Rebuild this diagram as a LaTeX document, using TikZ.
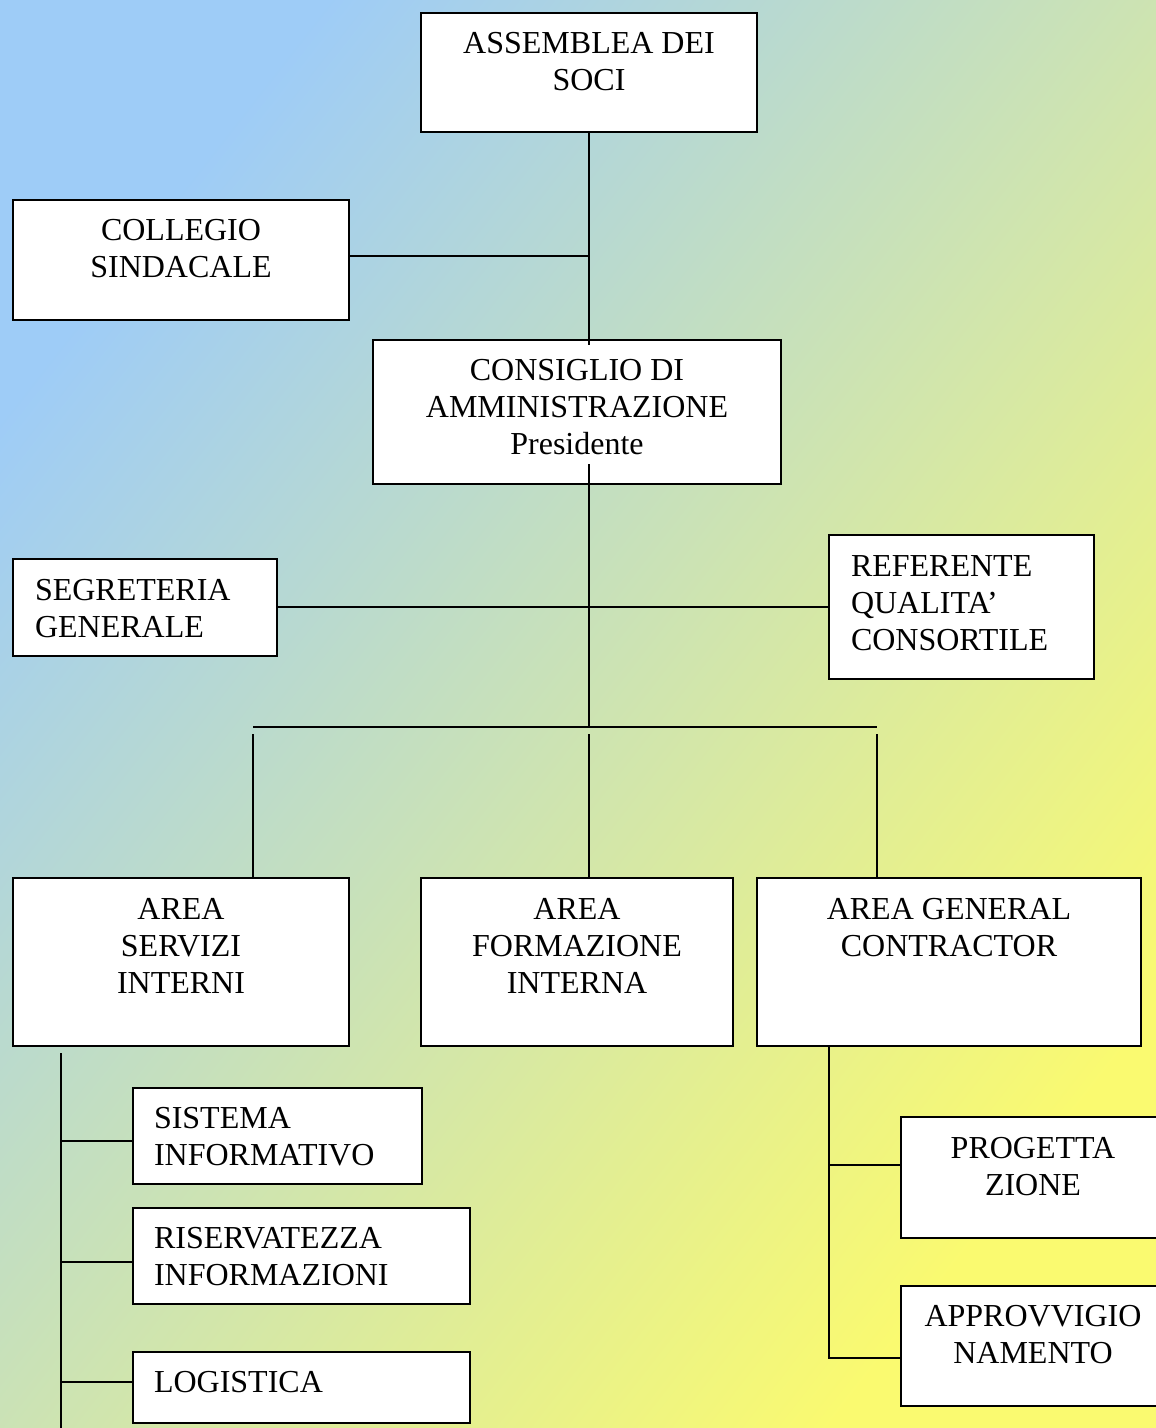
\documentclass[tikz,border=0pt]{standalone}
\usepackage{fontspec}
\setmainfont{Liberation Serif}
\usetikzlibrary{calc}
\definecolor{bgA}{RGB}{158,204,247}
\definecolor{bgB}{RGB}{250,250,112}
\begin{document}
\begin{tikzpicture}[x=1pt,y=-1pt,
  box/.style={draw, line width=2.4pt, fill=white, rectangle, inner sep=0pt, outer sep=0pt, anchor=north west},
  txt/.style={inner sep=0pt, outer sep=0pt, font=\fontsize{32}{37}\selectfont},
  ctxt/.style={txt, align=center, anchor=north},
  ltxt/.style={txt, align=left, anchor=north west},
  conn/.style={line width=2pt}]
\useasboundingbox (0,0) rectangle (1156,1428);
\clip (0,0) rectangle (1156,1428);
\shade[top color=bgA, bottom color=bgB, shading angle=52] (0,0) rectangle (1156,1428);

% boxes
\node[box, minimum width=336pt, minimum height=119pt] (asm) at (421,13) {};
\node[box, minimum width=336pt, minimum height=120pt] (col) at (13,200) {};
\node[box, minimum width=408pt, minimum height=144pt] (cda) at (373,340) {};
\node[box, minimum width=264pt, minimum height=97pt] (seg) at (13,559) {};
\node[box, minimum width=265pt, minimum height=144pt] (ref) at (829,535) {};
\node[box, minimum width=336pt, minimum height=168pt] (asi) at (13,878) {};
\node[box, minimum width=312pt, minimum height=168pt] (afi) at (421,878) {};
\node[box, minimum width=384pt, minimum height=168pt] (agc) at (757,878) {};
\node[box, minimum width=289pt, minimum height=96pt] (sis) at (133,1088) {};
\node[box, minimum width=337pt, minimum height=96pt] (ris) at (133,1208) {};
\node[box, minimum width=337pt, minimum height=71pt] (log) at (133,1352) {};
\node[box, minimum width=264pt, minimum height=121pt] (prg) at (901,1117) {};
\node[box, minimum width=264pt, minimum height=120pt] (app) at (901,1286) {};

% texts
\node[ctxt] (tasm) at (589,32) {ASSEMBLEA DEI\\SOCI};
\node[ctxt] (tcol) at (181,219) {COLLEGIO\\SINDACALE};
\node[ctxt] (tcda) at (577,359) {CONSIGLIO DI\\AMMINISTRAZIONE\\Presidente};
\node[ltxt] (tseg) at (35,579) {SEGRETERIA\\GENERALE};
\node[ltxt] (tref) at (851,556) {REFERENTE\\QUALITA’\\CONSORTILE};
\node[ctxt] (tasi) at (181,898) {AREA\\SERVIZI\\INTERNI};
\node[ctxt] (tafi) at (577,898) {AREA\\FORMAZIONE\\INTERNA};
\node[ctxt] (tagc) at (949,898) {AREA GENERAL\\CONTRACTOR};
\node[ltxt] (tsis) at (154,1107) {SISTEMA\\INFORMATIVO};
\node[ltxt] (tris) at (154,1227) {RISERVATEZZA\\INFORMAZIONI};
\node[ltxt] (tlog) at (154,1371) {LOGISTICA};
\node[ctxt] (tprg) at (1033,1137) {PROGETTA\\ZIONE};
\node[ctxt] (tapp) at (1033,1305) {APPROVVIGIO\\NAMENTO};

% junctions
\coordinate (jc) at (589,256);
\coordinate (jtop) at (589,464);
\coordinate (js) at (589,607);
\coordinate (jm) at (589,727);
\coordinate (jl) at (253,727);
\coordinate (jr) at (877,727);
\coordinate (lt) at (61,1053);
\coordinate (lb) at (61,1428);
\coordinate (rt) at (829,1046);
\coordinate (rb) at (829,1358);

% connectors
\draw[conn] (asm.south) -- (589,345);
\draw[conn] (col.east |- jc) -- (jc);
\draw[conn] (jtop) -- (jm);
\draw[conn] (seg.east |- js) -- (ref.west |- js);
\draw[conn] (jl) -- (jr);
\draw[conn] ($(jl)+(0,7)$) -- (jl |- asi.north);
\draw[conn] ($(jm)+(0,7)$) -- (jm |- afi.north);
\draw[conn] ($(jr)+(0,7)$) -- (jr |- agc.north);
\draw[conn] (lt) -- (lb);
\draw[conn] (61,1141) -- (sis.west |- 0,1141);
\draw[conn] (61,1262) -- (ris.west |- 0,1262);
\draw[conn] (61,1382) -- (log.west |- 0,1382);
\draw[conn] (rt) -- (rb) -- (app.west |- rb);
\draw[conn] (829,1165) -- (prg.west |- 0,1165);
\end{tikzpicture}
\end{document}
